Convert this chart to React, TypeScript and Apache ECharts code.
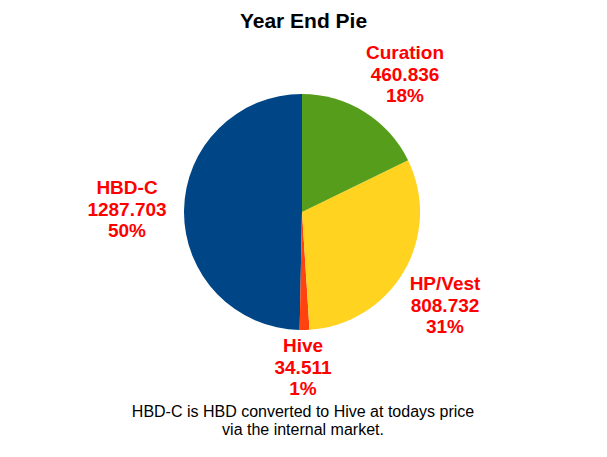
import React, { useEffect, useRef } from "react";
import * as echarts from "echarts";

const categories = ["HBD-C", "Hive", "HP/Vest", "Curation"];
const values = [1287.703, 34.511, 808.732, 460.836];
const colors = ["#004586", "#ff420e", "#ffd320", "#579d1c"];
const labelPositions: [number, number][] = [
  [119, 201],
  [295, 359],
  [437, 297],
  [397, 66],
];
const titleText = "Year End Pie";
const footnoteLines = [
  "HBD-C is HBD converted to Hive at todays price",
  "via the internal market.",
];

export default function App() {
  const ref = useRef<HTMLDivElement>(null);
  useEffect(() => {
    if (!ref.current) return;
    const chart = echarts.init(ref.current, null, { renderer: "svg" });
    chart.setOption({
      animation: false,
      backgroundColor: "#ffffff",
      title: {
        text: titleText,
        left: "center",
        top: 0,
        padding: 0,
        textStyle: {
          fontFamily: "Liberation Sans, Arial, sans-serif",
          fontSize: 21,
          fontWeight: "bold",
          color: "#000000",
          lineHeight: 24,
        },
      },
      graphic: [
        {
          type: "text",
          x: 295,
          y: 395,
          style: {
            text: footnoteLines.join("\n"),
            textAlign: "center",
            textVerticalAlign: "top",
            font: "16px 'Liberation Sans', Arial, sans-serif",
            fill: "#000000",
            lineHeight: 17.5,
          },
        },
      ],
      series: [
        {
          type: "pie",
          center: [294, 204],
          radius: [0, 118],
          startAngle: 90,
          clockwise: false,
          data: categories.map((name, i) => ({
            name,
            value: values[i],
            itemStyle: { color: colors[i] },
          })),
          label: {
            show: true,
            position: "outside",
            formatter: (p: any) =>
              `${p.name}\n${Number(p.value).toFixed(3)}\n${Math.round(p.percent)}%`,
            color: "#ff0000",
            fontFamily: "Liberation Sans, Arial, sans-serif",
            fontSize: 19,
            fontWeight: "bold",
            lineHeight: 21.7,
            align: "center",
          },
          labelLine: { show: false },
          labelLayout: (params: any) => {
            const pos = labelPositions[params.dataIndex];
            return {
              x: pos[0],
              y: pos[1],
              align: "center",
              verticalAlign: "middle",
            };
          },
          emphasis: { disabled: true },
        },
      ],
    });
    return () => chart.dispose();
  }, []);
  return <div ref={ref} style={{ width: 591, height: 441 }} />;
}
